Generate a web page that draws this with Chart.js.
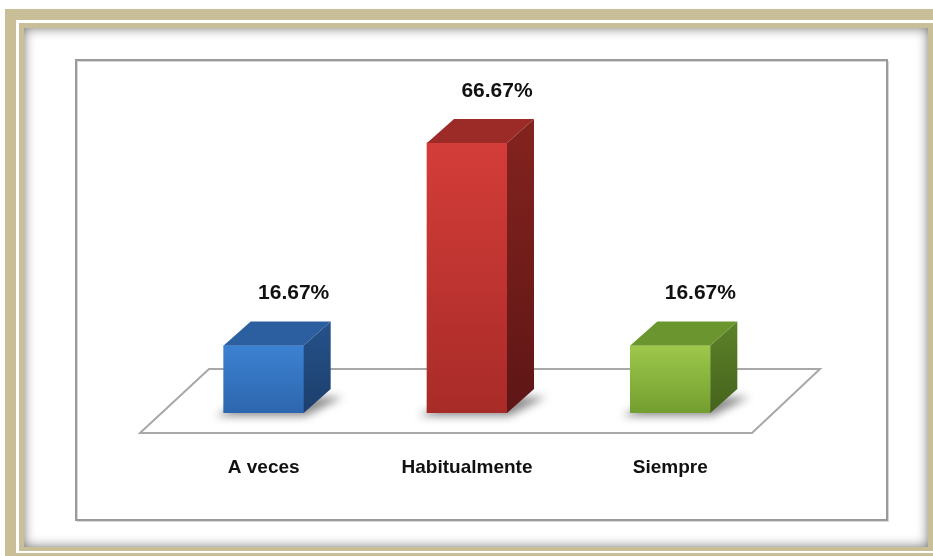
<!DOCTYPE html>
<html>
<head>
<meta charset="utf-8">
<script src="https://cdn.jsdelivr.net/npm/chart.js@4"></script>
<style>
  html, body { margin: 0; padding: 0; background: #ffffff; }
  canvas { display: block; }
</style>
</head>
<body>
<canvas id="chart" width="933" height="556"></canvas>
<script>
// data
const labels = ["A veces", "Habitualmente", "Siempre"];
const values = [16.67, 66.67, 16.67];
const valueLabels = ["16.67%", "66.67%", "16.67%"];

// colours per bar: front top, front bottom, top face, side top, side bottom
const frontLight = ["#3c82d2", "#d43d39", "#9dc84b"];
const frontDark = ["#2d66ae", "#a82b28", "#739e30"];
const topFace = ["#2c5f9f", "#9c2a27", "#6b962f"];
const sideLight = ["#25528a", "#84231f", "#5c8229"];
const sideDark = ["#1c3f6c", "#5e1616", "#45631c"];

const DX = 27, DY = -24; // 3d depth of the bars

// frame + floor + shadows
const decor = {
  id: 'decor',
  beforeDraw(chart) {
    const {ctx, width, height} = chart;
    ctx.save();
    ctx.fillStyle = '#ffffff';
    ctx.fillRect(0, 0, width, height);
    // outer tan band
    ctx.fillStyle = '#c8bf98';
    ctx.fillRect(5, 9, width - 5, height - 9);
    ctx.fillStyle = '#ffffff';
    ctx.fillRect(16, 20, width - 16, 533);
    // inner tan band
    ctx.fillStyle = '#c8bf98';
    ctx.fillRect(19, 23, width - 19, 528);
    ctx.fillStyle = '#ffffff';
    ctx.fillRect(24, 28, width - 29, 519);
    // inset shadow
    ctx.save();
    ctx.beginPath();
    ctx.rect(24, 28, width - 29, 519);
    ctx.clip();
    ctx.shadowColor = 'rgba(0,0,0,0.55)';
    ctx.shadowBlur = 12;
    ctx.lineWidth = 20;
    ctx.strokeStyle = '#c8bf98';
    ctx.strokeRect(14, 18, width - 9, 539);
    ctx.restore();
    // chart border
    ctx.strokeStyle = '#d8d8d8';
    ctx.lineWidth = 1;
    ctx.strokeRect(77.5, 61.5, 811, 460);
    ctx.strokeStyle = '#9a9a9a';
    ctx.lineWidth = 2;
    ctx.strokeRect(76, 60, 811, 460);
    ctx.restore();
  },
  beforeDatasetsDraw(chart) {
    const {ctx, chartArea: {left, right}} = chart;
    const y0 = chart.scales.y.getPixelForValue(0);
    ctx.save();
    // floor
    ctx.beginPath();
    ctx.moveTo(left - 22, y0 + 20);
    ctx.lineTo(right - 20, y0 + 20);
    ctx.lineTo(right + 48, y0 - 44);
    ctx.lineTo(left + 47, y0 - 44);
    ctx.closePath();
    ctx.fillStyle = '#ffffff';
    ctx.fill();
    ctx.strokeStyle = '#a8a8a8';
    ctx.lineWidth = 2;
    ctx.stroke();
    // bar shadows
    ctx.filter = 'blur(4px)';
    ctx.fillStyle = 'rgba(0,0,0,0.45)';
    chart.getDatasetMeta(0).data.forEach(bar => {
      const l = bar.x - bar.width / 2, r = bar.x + bar.width / 2;
      ctx.beginPath();
      ctx.moveTo(l - 8, bar.base + 3);
      ctx.lineTo(r + 2, bar.base + 3);
      ctx.lineTo(r + DX + 12, bar.base + DY + 8);
      ctx.lineTo(l + DX, bar.base + DY + 8);
      ctx.closePath();
      ctx.fill();
    });
    ctx.restore();
  },
  afterDatasetsDraw(chart) {
    const {ctx} = chart;
    ctx.save();
    chart.getDatasetMeta(0).data.forEach((bar, i) => {
      const l = bar.x - bar.width / 2, r = bar.x + bar.width / 2;
      const top = bar.y, base = bar.base;
      // side face
      const sg = ctx.createLinearGradient(0, top + DY, 0, base);
      sg.addColorStop(0, sideLight[i]);
      sg.addColorStop(1, sideDark[i]);
      ctx.beginPath();
      ctx.moveTo(r, top);
      ctx.lineTo(r + DX, top + DY);
      ctx.lineTo(r + DX, base + DY);
      ctx.lineTo(r, base);
      ctx.closePath();
      ctx.fillStyle = sg;
      ctx.fill();
      // top face
      ctx.beginPath();
      ctx.moveTo(l, top);
      ctx.lineTo(l + DX, top + DY);
      ctx.lineTo(r + DX, top + DY);
      ctx.lineTo(r, top);
      ctx.closePath();
      ctx.fillStyle = topFace[i];
      ctx.fill();
      // value label
      ctx.fillStyle = '#111111';
      ctx.font = 'bold 21px "Liberation Sans", Arial, sans-serif';
      ctx.textAlign = 'center';
      ctx.textBaseline = 'middle';
      ctx.fillText(valueLabels[i], bar.x + 30, top + DY - 28);
      // category label
      ctx.font = 'bold 19px "Liberation Sans", Arial, sans-serif';
      ctx.fillText(labels[i], bar.x, base + 55);
    });
    ctx.restore();
  }
};

const data = {
  labels: labels,
  datasets: [{
    label: "Porcentaje",
    data: values,
    barThickness: 80,
    borderWidth: 0,
    backgroundColor(c) {
      const y = c.chart.scales && c.chart.scales.y;
      const i = c.dataIndex;
      if (!c.chart.chartArea || !y || i === undefined) return frontLight[i || 0];
      const top = y.getPixelForValue(values[i]);
      const base = y.getPixelForValue(0);
      if (!isFinite(top) || !isFinite(base)) return frontLight[i];
      const g = c.chart.ctx.createLinearGradient(0, top, 0, base);
      g.addColorStop(0, frontLight[i]);
      g.addColorStop(1, frontDark[i]);
      return g;
    }
  }]
};

const config = {
  type: 'bar',
  data: data,
  options: {
    responsive: false,
    animation: false,
    layout: {padding: {left: 162, right: 161, top: 93, bottom: 143}},
    plugins: {
      legend: {display: false},
      tooltip: {enabled: false}
    },
    scales: {
      x: {display: false},
      y: {display: false, min: 0, max: 79}
    }
  },
  plugins: [decor]
};

const chart = new Chart(document.getElementById("chart"), config);
</script>
</body>
</html>
